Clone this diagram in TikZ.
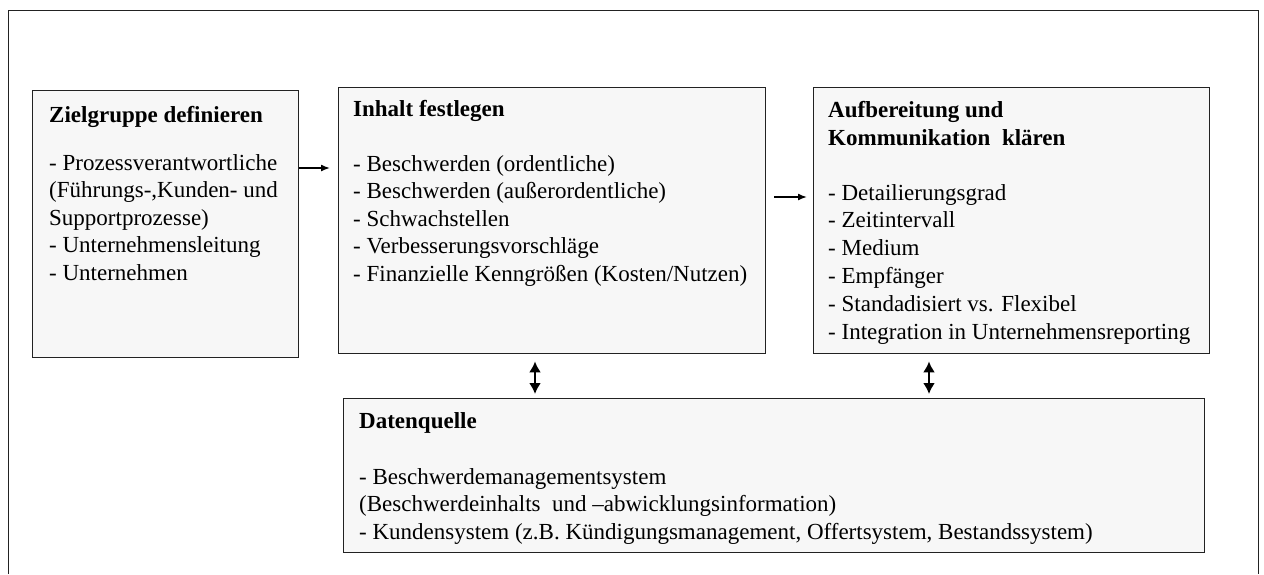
\documentclass[tikz,border=0pt]{standalone}
\usepackage{fontspec}
\setmainfont{Liberation Serif}
\usetikzlibrary{arrows.meta}

\definecolor{boxfill}{HTML}{F7F7F7}
\definecolor{boxline}{HTML}{222222}

\tikzset{
  stagebox/.style={draw=boxline, line width=1.4pt, fill=boxfill,
    rectangle, anchor=north west, inner sep=0pt},
  head/.style={anchor=base west, inner sep=0pt, font=\fontsize{23}{27}\selectfont\bfseries},
  item/.style={anchor=base west, inner sep=0pt, font=\fontsize{23}{27}\selectfont},
  flowarrow/.style={line width=1.5pt, -{Latex[length=9pt,width=7pt]}},
  linkarrow/.style={line width=2pt, {Latex[length=11pt,width=12pt]}-{Latex[length=11pt,width=12pt]}},
}

\begin{document}
\begin{tikzpicture}[x=1pt,y=-1pt]
  \useasboundingbox (0,0) rectangle (1264,574);

  % outer frame
  \draw[line width=1pt, draw=boxline] (8,574) -- (8,10) -- (1258,10) -- (1258,574);

  % the four boxes
  \node[stagebox, minimum width=266pt, minimum height=267pt] (ziel) at (32,90) {};
  \node[stagebox, minimum width=427pt, minimum height=266pt] (inhalt) at (338,87) {};
  \node[stagebox, minimum width=396pt, minimum height=266pt] (aufb) at (813,87) {};
  \node[stagebox, minimum width=861pt, minimum height=154pt] (daten) at (343,398) {};

  % Zielgruppe definieren
  \node[head] (zielhead) at (49,122) {Zielgruppe definieren};
  \foreach \t [count=\i] in {- Prozessverantwortliche, {(Führungs-,Kunden- und}, Supportprozesse), - Unternehmensleitung, - Unternehmen}
    \node[item] (ziel\i) at (49,{170+(\i-1)*27.5}) {\t};

  % Inhalt festlegen
  \node[head] (inhalthead) at (353,116) {Inhalt festlegen};
  \foreach \t [count=\i] in {- Beschwerden (ordentliche), - Beschwerden (außerordentliche), - Schwachstellen, - Verbesserungsvorschläge, - Finanzielle Kenngrößen (Kosten/Nutzen)}
    \node[item] (inhalt\i) at (353,{171+(\i-1)*27.5}) {\t};

  % Aufbereitung und Kommunikation klaeren
  \node[head] (aufbhead1) at (828,117) {Aufbereitung und};
  \node[head] (aufbhead2) at (828,145) {Kommunikation\ \ klären};
  \foreach \t [count=\i] in {- Detailierungsgrad, - Zeitintervall, - Medium, - Empfänger, - Standadisiert vs. Flexibel, - Integration in Unternehmensreporting}
    \node[item] (aufb\i) at (828,{200+(\i-1)*27.8}) {\t};

  % Datenquelle
  \node[head] (datenhead) at (359,428) {Datenquelle};
  \foreach \t [count=\i] in {- Beschwerdemanagementsystem, (Beschwerdeinhalts\ \ und –abwicklungsinformation), {- Kundensystem (z.B. Kündigungsmanagement, Offertsystem, Bestandssystem)}}
    \node[item] (daten\i) at (359,{484+(\i-1)*27.5}) {\t};

  % flow between the stages
  \draw[flowarrow, shorten >=8pt] (ziel.east |- 0,168) -- (inhalt.west |- 0,168);
  \draw[flowarrow, shorten <=8pt, shorten >=6pt] (inhalt.east |- 0,197) -- (aufb.west |- 0,197);

  % links to the data source
  \draw[linkarrow, shorten <=7pt, shorten >=4pt] (inhalt.south -| 535,0) -- (daten.north -| 535,0);
  \draw[linkarrow, shorten <=7pt, shorten >=4pt] (aufb.south -| 929,0) -- (daten.north -| 929,0);
\end{tikzpicture}
\end{document}
